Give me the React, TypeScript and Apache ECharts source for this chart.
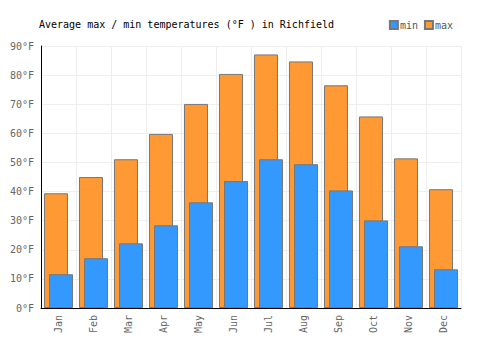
import React, { useEffect, useRef } from "react";
import * as echarts from "echarts";

const months = ["Jan", "Feb", "Mar", "Apr", "May", "Jun", "Jul", "Aug", "Sep", "Oct", "Nov", "Dec"];
const maxTemps = [39.4, 45.0, 51.1, 59.8, 70.1, 80.4, 87.1, 84.7, 76.5, 65.8, 51.4, 40.8];
const minTemps = [11.6, 17.1, 22.2, 28.4, 36.3, 43.6, 51.1, 49.4, 40.4, 30.1, 21.2, 13.3];
const titleText = "Average max / min temperatures (°F ) in Richfield";

const FONT = "DejaVu Sans Mono";

export default function App() {
  const ref = useRef<HTMLDivElement>(null);
  useEffect(() => {
    if (!ref.current) return;
    const chart = echarts.init(ref.current, undefined, { renderer: "svg" });
    chart.setOption({
      animation: false,
      title: {
        text: titleText,
        left: 34,
        top: 14,
        textStyle: { fontFamily: FONT, fontSize: 10, fontWeight: "normal", color: "#000" },
      },
      legend: {
        data: ["min", "max"],
        right: 42,
        top: 15,
        itemWidth: 8,
        itemHeight: 8,
        itemGap: 6,
        icon: "rect",
        textStyle: { fontFamily: FONT, fontSize: 10, color: "#555", padding: [0, 0, 0, -3] },
      },
      grid: { left: 41, top: 46, right: 39, bottom: 42 },
      xAxis: {
        type: "category",
        data: months,
        axisLine: { lineStyle: { color: "#000", width: 1 } },
        axisTick: { show: false },
        axisLabel: { rotate: 90, fontFamily: FONT, fontSize: 10, color: "#666", margin: 7 },
        splitLine: { show: true, lineStyle: { color: "#eee" } },
      },
      yAxis: {
        type: "value",
        min: 0,
        max: 90,
        interval: 10,
        axisLine: { show: true, lineStyle: { color: "#000", width: 1 } },
        axisTick: { show: false },
        axisLabel: { formatter: "{value}°F", fontFamily: FONT, fontSize: 10, color: "#666", margin: 7 },
        splitLine: { show: true, lineStyle: { color: "#eee" } },
      },
      series: [
        {
          name: "max",
          type: "bar",
          data: maxTemps,
          barWidth: 24,
          barGap: "-79%",
          itemStyle: { color: "#ff9933", borderColor: "#777", borderWidth: 1 },
        },
        {
          name: "min",
          type: "bar",
          data: minTemps,
          barWidth: 24,
          itemStyle: { color: "#3399ff", borderColor: "#777", borderWidth: 1 },
        },
      ],
    });
    return () => chart.dispose();
  }, []);
  return <div ref={ref} style={{ width: 500, height: 350, margin: -8 }} />;
}
